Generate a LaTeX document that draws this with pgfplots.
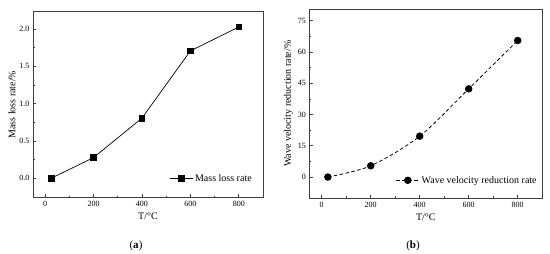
\documentclass[border=0pt]{standalone}
\usepackage{pgfplots}
\pgfplotsset{compat=1.18}
\usepackage{fontspec}
\setmainfont{Liberation Serif}
\begin{document}
\begin{tikzpicture}
\useasboundingbox (0pt,0pt) rectangle (550pt,254pt);
\pgfplotsset{
  myax/.style={
    scale only axis,
    axis line style={black!75, line width=0.7pt},
    tick style={black!75, line width=0.6pt},
    major tick length=3pt, minor tick length=1.8pt,
    tick align=inside,
    xtick pos=bottom, ytick pos=left,
    xmin=-50, xmax=900,
    xtick={0,200,400,600,800},
    minor x tick num=1, minor y tick num=1,
    ticklabel style={font=\fontsize{8}{9}\selectfont},
    label style={font=\fontsize{10}{12}\selectfont},
    /pgf/number format/assume math mode=true,
    xlabel={T/°C},
    legend style={draw=none, fill=none, font=\fontsize{10}{12}\selectfont, inner sep=1pt},
    legend cell align=left,
    legend image code/.code={\draw[mark repeat=2,mark phase=2] plot coordinates {(0pt,0pt) (11.5pt,0pt) (23pt,0pt)};},
  }
}
\begin{axis}[myax, at={(33pt,56.5pt)}, anchor=south west,
  width=230pt, height=185.8pt,
  ymin=-0.257, ymax=2.23,
  ytick={0,0.5,1.0,1.5,2.0},
  yticklabel style={/pgf/number format/.cd, fixed, fixed zerofill, precision=1},
  ylabel={Mass loss rate/\%},
  ylabel shift=-3pt,
  legend style={at={(rel axis cs:0.965,0.103)}, anchor=east},
]
\addplot[black, line width=0.7pt, mark=square*, mark size=2.8pt] coordinates {
(25,0) (200,0.277) (400,0.805) (600,1.705) (800,2.025)};
\addlegendentry{Mass loss rate}
\end{axis}
\begin{axis}[myax, at={(309.5pt,55.7pt)}, anchor=south west,
  width=232.7pt, height=189.3pt,
  ymin=-10.2, ymax=80.6,
  ytick={0,15,30,45,60,75},
  ylabel={Wave velocity reduction rate/\%},
  ylabel shift=-2pt,
  legend style={at={(rel axis cs:0.99,0.095)}, anchor=east},
]
\addplot[black, line width=0.8pt, dash pattern=on 3.5pt off 2.5pt, smooth, mark=*, mark size=3.3pt, mark options={solid}] coordinates {
(25,0) (200,5.4) (400,19.6) (600,42.3) (800,65.5)};
\addlegendentry{Wave velocity reduction rate}
\end{axis}
\node[font=\fontsize{11}{13}\selectfont] at (136pt,8pt) {(\textbf{a})};
\node[font=\fontsize{11}{13}\selectfont] at (413pt,8pt) {(\textbf{b})};
\end{tikzpicture}
\end{document}
